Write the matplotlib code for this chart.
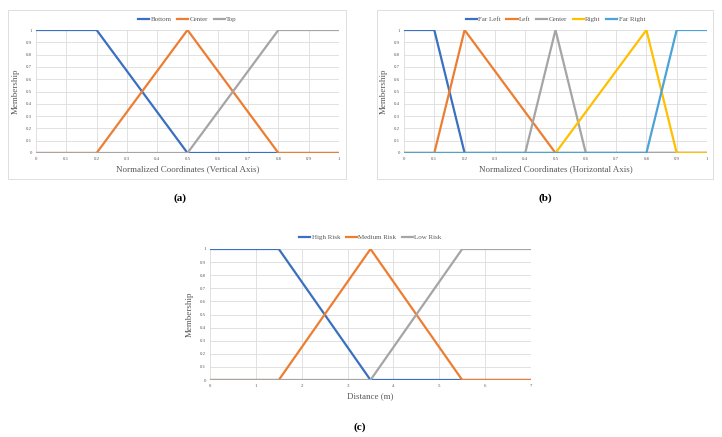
import matplotlib.pyplot as plt
from matplotlib.patches import Rectangle

plt.rcParams['font.family'] = ['Liberation Serif', 'DejaVu Serif']

#--- Data: breakpoints of the membership functions
# (a) vertical axis
a_labels = ['Bottom', 'Center', 'Top']
a_x = [[0, 0.2, 0.5, 1], [0, 0.2, 0.5, 0.8, 1], [0, 0.5, 0.8, 1]]
a_y = [[1, 1, 0, 0], [0, 0, 1, 0, 0], [0, 0, 1, 1]]

# (b) horizontal axis
b_labels = ['Far Left', 'Left', 'Center', 'Right', 'Far Right']
b_x = [[0, 0.1, 0.2, 1],
       [0, 0.1, 0.2, 0.5, 1],
       [0, 0.4, 0.5, 0.6, 1],
       [0, 0.5, 0.8, 0.9, 1],
       [0, 0.8, 0.9, 1]]
b_y = [[1, 1, 0, 0],
       [0, 0, 1, 0, 0],
       [0, 0, 1, 0, 0],
       [0, 0, 1, 0, 0],
       [0, 0, 1, 1]]

# (c) distance
c_labels = ['High Risk', 'Medium Risk', 'Low Risk']
c_x = [[0, 1.5, 3.5, 7], [0, 1.5, 3.5, 5.5, 7], [0, 3.5, 5.5, 7]]
c_y = [[1, 1, 0, 0], [0, 0, 1, 0, 0], [0, 0, 1, 1]]

colors3 = ['#3A70C0', '#ED7D31', '#A5A5A5']
colors5 = ['#3A70C0', '#ED7D31', '#A5A5A5', '#FFC000', '#4BA3D8']

W, H = 722, 437
fig = plt.figure(figsize=(W / 100, H / 100), dpi=100)


def px_axes(x0, y0, x1, y1):
    # pixel box (top-left origin) -> axes
    return fig.add_axes([x0 / W, 1 - y1 / H, (x1 - x0) / W, (y1 - y0) / H])


def panel(ax, xs, ys, labels, colors, xticks, xlabel, leg_y):
    for x, y, lab, c in zip(xs, ys, labels, colors):
        ax.plot(x, y, color=c, lw=1.6, label=lab, solid_joinstyle='miter')
    ax.set_xlim(xticks[0], xticks[-1])
    ax.set_ylim(0, 1)
    ax.set_xticks(xticks)
    ax.set_xticklabels([f'{t:g}' for t in xticks])
    yt = [i / 10 for i in range(11)]
    ax.set_yticks(yt)
    ax.set_yticklabels([f'{t:g}' for t in yt])
    ax.tick_params(length=0, labelsize=3.5, colors='#595959', pad=3)
    ax.grid(True, color='#DCDCDC', lw=0.6)
    ax.set_axisbelow(True)
    for s in ax.spines.values():
        s.set_visible(False)
    ax.set_xlabel(xlabel, fontsize=6.5, color='#595959', labelpad=3)
    ax.set_ylabel('Membership', fontsize=6.5, color='#595959', labelpad=4)
    ax.legend(loc='lower center', bbox_to_anchor=(0.5, leg_y), ncol=len(labels),
              frameon=False, fontsize=5, handlelength=1.6, handletextpad=0.2,
              columnspacing=0.8, borderaxespad=0, labelcolor='#595959')


ax_a = px_axes(36, 30, 339, 153)
panel(ax_a, a_x, a_y, a_labels, colors3, [i / 10 for i in range(11)],
      'Normalized Coordinates (Vertical Axis)', 1.04)

ax_b = px_axes(404, 30, 707, 153)
panel(ax_b, b_x, b_y, b_labels, colors5, [i / 10 for i in range(11)],
      'Normalized Coordinates (Horizontal Axis)', 1.04)

ax_c = px_axes(210, 249, 531, 380)
panel(ax_c, c_x, c_y, c_labels, colors3, list(range(8)),
      'Distance (m)', 1.045)

# chart frames
for x0, y0, x1, y1 in [(8, 10, 346, 179), (377, 10, 713, 179)]:
    fig.add_artist(Rectangle((x0 / W, 1 - y1 / H), (x1 - x0) / W, (y1 - y0) / H,
                             transform=fig.transFigure, fill=False,
                             edgecolor='#D9D9D9', lw=0.6))

# captions
for lab, x, y in [('(a)', 180, 198), ('(b)', 545, 198), ('(c)', 360, 427)]:
    fig.text(x / W, 1 - y / H, lab, ha='center', va='center', fontsize=8,
             fontweight='bold')

fig.savefig('out.png', dpi=100)
